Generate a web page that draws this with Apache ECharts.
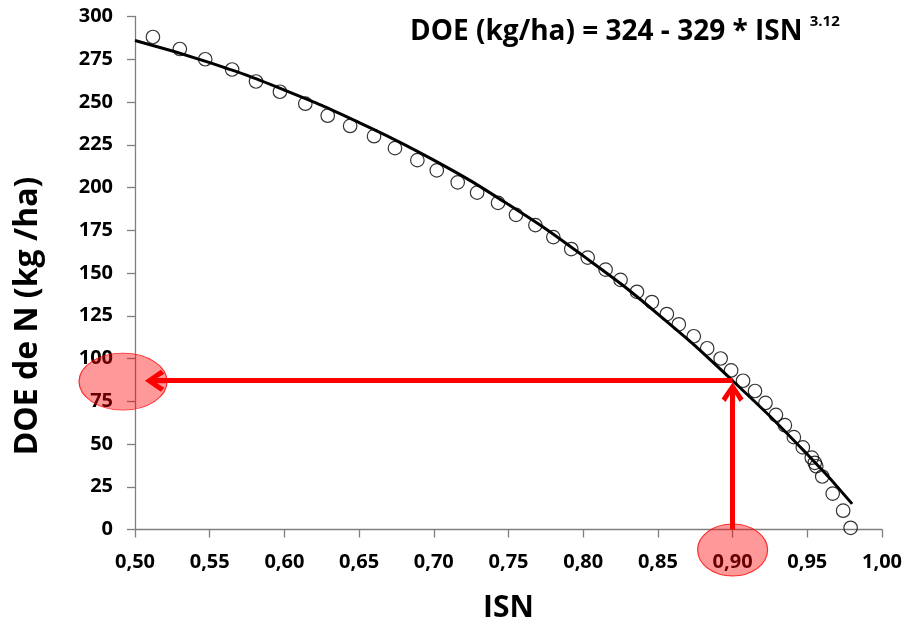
<!DOCTYPE html>
<html lang="es">
<head>
<meta charset="UTF-8">
<title>DOE de N vs ISN</title>
<script src="https://cdn.jsdelivr.net/npm/echarts@6/dist/echarts.min.js"></script>
</head>
<body style="margin:0">
<div id="main" style="width:905px;height:622px;"></div>
<script>
// observaciones (ISN, DOE kg/ha)
const isnObs = [0.512, 0.530, 0.547, 0.565, 0.581, 0.597, 0.614, 0.629, 0.644, 0.660,
  0.674, 0.689, 0.702, 0.716, 0.729, 0.743, 0.755, 0.768, 0.780, 0.792,
  0.803, 0.815, 0.825, 0.836, 0.846, 0.856, 0.864, 0.874, 0.883, 0.892,
  0.899, 0.907, 0.915, 0.922, 0.929, 0.935, 0.941, 0.947, 0.953, 0.955,
  0.956, 0.960, 0.967, 0.974, 0.979];
const doeObs = [288, 281, 275, 269, 262, 256, 249, 242, 236, 230,
  223, 216, 210, 203, 197, 191, 184, 178, 171, 164,
  159, 152, 146, 139, 133, 126, 120, 113, 106, 100,
  93, 87, 81, 74, 67, 61, 54, 48, 42, 39,
  37, 31, 21, 11, 1];
// curva ajustada
const isnFit = [0.50, 0.55, 0.60, 0.65, 0.70, 0.75, 0.80, 0.85, 0.90, 0.95, 0.98];
const doeFit = [286, 273, 257, 238, 216, 190, 160, 126, 87, 44, 15];
// anotaciones
const isnSel = 0.90;
const doeSel = 87;
const marks = [[0.492, 86.5], [0.90, -12]];

const chevron = 'path://M11,0 L22,16 L18,19.5 L13.5,12 L13.5,22 L8.5,22 L8.5,12 L4,19.5 L0,16 Z';
const font = '"Open Sans", "Noto Sans", sans-serif';

let myChart = echarts.init(document.getElementById('main'));

let option = {
    backgroundColor: '#fff',
    animation: false,
    grid: { left: 135, right: 23, top: 16.5, bottom: 92.5, containLabel: false, outerBoundsMode: 'none' },
    xAxis: {
        type: 'value', min: 0.5, max: 1.0, interval: 0.05,
        name: 'ISN', nameLocation: 'middle', nameGap: 64,
        nameTextStyle: { fontFamily: font, fontWeight: 'bold', fontSize: 30, color: '#000' },
        axisLine: { lineStyle: { color: '#7f7f7f', width: 1.3 } },
        axisTick: { inside: false, length: 8, lineStyle: { color: '#7f7f7f', width: 1.3 } },
        splitLine: { show: false },
        axisLabel: {
            margin: 23, fontFamily: font, fontWeight: 'bold', fontSize: 20, color: '#000',
            formatter: v => v.toFixed(2).replace('.', ',')
        }
    },
    yAxis: {
        type: 'value', min: 0, max: 300, interval: 25,
        axisLine: { show: true, lineStyle: { color: '#7f7f7f', width: 1.3 } },
        axisTick: { show: true, inside: false, length: 8, lineStyle: { color: '#7f7f7f', width: 1.3 } },
        splitLine: { show: false },
        axisLabel: { margin: 22, fontFamily: font, fontWeight: 'bold', fontSize: 20, color: '#000' }
    },
    graphic: [
        {
            type: 'text', x: 28, y: 316, rotation: Math.PI / 2,
            style: {
                text: 'DOE de N (kg /ha)', align: 'center', verticalAlign: 'middle',
                fontFamily: font, fontWeight: 'bold', fontSize: 32, fill: '#000'
            }
        },
        {
            type: 'text', left: 410, top: 14,
            style: {
                text: '{a|DOE (kg/ha) = 324 - 329 * ISN }{b|3.12}',
                rich: {
                    a: { fontFamily: font, fontWeight: 'bold', fontSize: 28, lineHeight: 36, fill: '#000' },
                    b: { fontFamily: font, fontWeight: 'bold', fontSize: 15, lineHeight: 20, verticalAlign: 'top', fill: '#000' }
                }
            }
        }
    ],
    series: [
        {
            name: 'ajuste', type: 'line', smooth: true, showSymbol: false, z: 3,
            data: isnFit.map((x, i) => [x, doeFit[i]]),
            lineStyle: { color: '#000', width: 3 }
        },
        {
            name: 'obs', type: 'scatter', symbol: 'circle', symbolSize: 13.5, z: 4,
            data: isnObs.map((x, i) => [x, doeObs[i]]),
            itemStyle: { color: 'rgba(255,255,255,0)', borderColor: '#000', borderWidth: 1.2 }
        },
        {
            name: 'marcas', type: 'scatter', clip: false, z: 5, silent: true,
            data: [
                { value: marks[0], symbolSize: [88, 57] },
                { value: marks[1], symbolSize: [70, 52] }
            ],
            itemStyle: { color: 'rgba(255,0,0,0.5)', borderColor: '#ff0000', borderWidth: 1 }
        },
        {
            name: 'flechas', type: 'line', data: [], z: 6,
            markLine: {
                silent: true, animation: false,
                symbol: ['none', chevron], symbolSize: [22, 22],
                label: { show: false },
                lineStyle: { color: '#ff0000', width: 5, type: 'solid' },
                data: [
                    [{ coord: [isnSel, 0] }, { coord: [isnSel, doeSel - 7.5] }],
                    [{ coord: [isnSel, doeSel] }, { coord: [0.514, doeSel] }]
                ]
            }
        }
    ]
};

myChart.setOption(option);
</script>
</body>
</html>
